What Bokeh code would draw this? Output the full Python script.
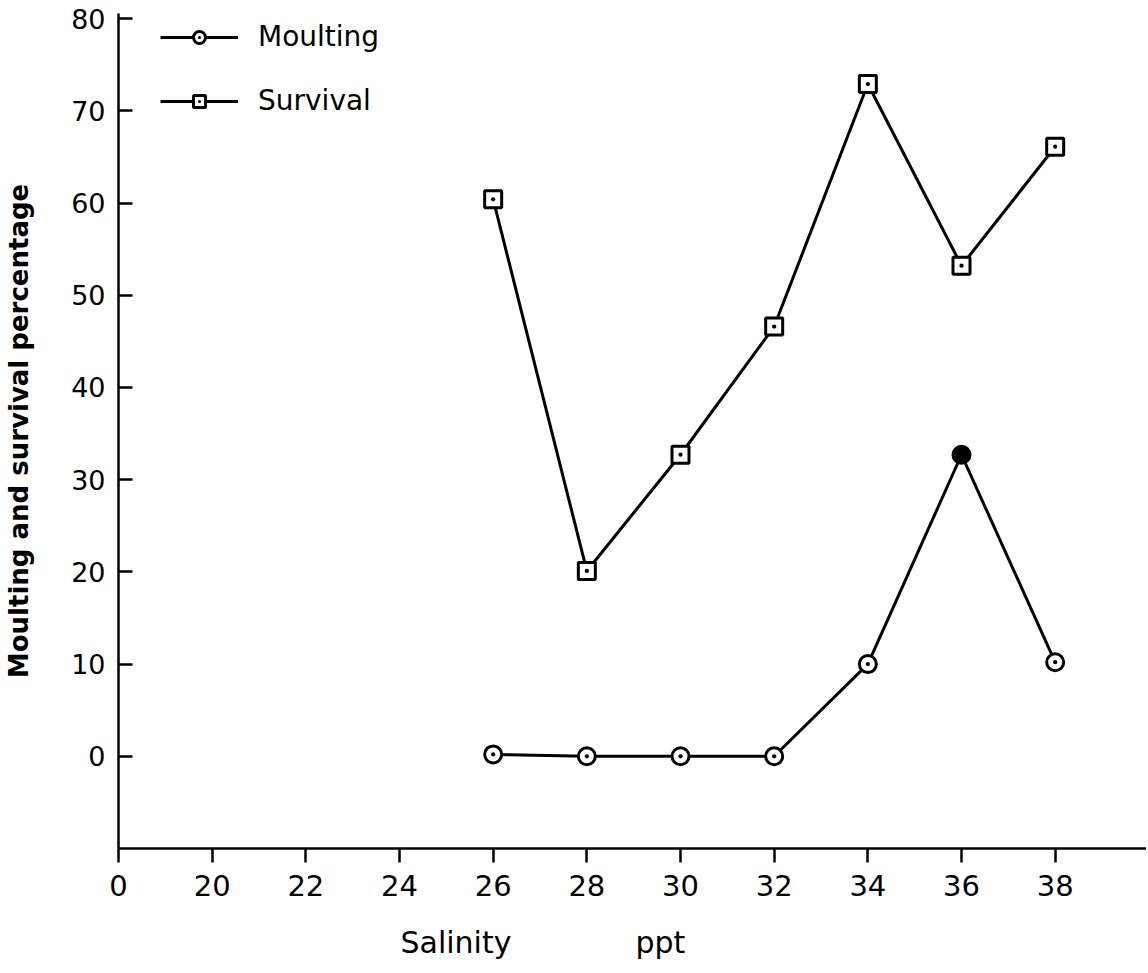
from bokeh.plotting import figure
from bokeh.models import FixedTicker, Legend, LegendItem, Title
from bokeh.embed import file_html
from bokeh.resources import INLINE

# ---- data ----
salinity = [26, 28, 30, 32, 34, 36, 38]
moulting = [0.2, 0.0, 0.0, 0.0, 10.0, 32.7, 10.2]
survival = [60.4, 20.1, 32.7, 46.6, 72.9, 53.2, 66.1]
x_ticks = [18, 20, 22, 24, 26, 28, 30, 32, 34, 36, 38]
x_tick_labels = ["0", "20", "22", "24", "26", "28", "30", "32", "34", "36", "38"]
y_ticks = [0, 10, 20, 30, 40, 50, 60, 70, 80]
filled_index = 5  # moulting point drawn as solid dot (36 ppt)

FONT = "DejaVu Sans"

p = figure(
    output_backend="svg", toolbar_location=None,
    frame_width=1028, frame_height=835,
    min_border_left=118, min_border_right=0, min_border_top=13, min_border_bottom=118,
    x_range=(18, 39.95), y_range=(-10, 80.55),
    background_fill_color="white", border_fill_color="white",
)
p.outline_line_color = None
p.xgrid.grid_line_color = None
p.ygrid.grid_line_color = None

# x axis
xa = p.xaxis[0]
xa.ticker = FixedTicker(ticks=x_ticks)
xa.major_label_overrides = {t: l for t, l in zip(x_ticks, x_tick_labels)}
xa.major_tick_in = 0
xa.major_tick_out = 14
xa.minor_tick_line_color = None
xa.axis_line_width = 2.5
xa.major_tick_line_width = 2.5
xa.axis_line_color = "black"
xa.major_tick_line_color = "black"
xa.major_label_standoff = 12
xa.major_label_text_font = FONT
xa.major_label_text_font_size = "29px"
xa.major_label_text_color = "black"

# y axis
ya = p.yaxis[0]
ya.ticker = FixedTicker(ticks=y_ticks)
ya.major_tick_in = 14
ya.major_tick_out = 0
ya.minor_tick_line_color = None
ya.axis_line_width = 2.5
ya.major_tick_line_width = 2.5
ya.axis_line_color = "black"
ya.major_tick_line_color = "black"
ya.major_label_standoff = 13
ya.major_label_text_font = FONT
ya.major_label_text_font_size = "27px"
ya.major_label_text_color = "black"
ya.axis_label = "Moulting and survival percentage"
ya.axis_label_text_font = FONT
ya.axis_label_text_font_size = "26px"
ya.axis_label_text_font_style = "bold"
ya.axis_label_text_color = "black"
ya.axis_label_standoff = 34

# x axis title (offset to the left as in the reference)
p.add_layout(Title(text="Salinity" + "\u00a0" * 13 + "ppt", align="left", offset=282,
                   text_font=FONT, text_font_size="30px", text_font_style="normal",
                   text_color="black", standoff=49), "below")

# series
surv_line = p.line(salinity, survival, line_color="black", line_width=3)
surv_pts = p.scatter(salinity, survival, marker="square_dot", size=17,
                     line_color="black", line_width=3, fill_color="white")

moult_line = p.line(salinity, moulting, line_color="black", line_width=3)
open_x = [s for i, s in enumerate(salinity) if i != filled_index]
open_y = [m for i, m in enumerate(moulting) if i != filled_index]
moult_pts = p.scatter(open_x, open_y, marker="circle_dot", size=17,
                      line_color="black", line_width=3, fill_color="white")
p.scatter([salinity[filled_index]], [moulting[filled_index]], marker="circle", size=18,
          line_color="black", line_width=2, fill_color="black")

legend = Legend(
    items=[LegendItem(label="Moulting", renderers=[moult_line, moult_pts]),
           LegendItem(label="Survival", renderers=[surv_line, surv_pts])],
    location=(42, 731),
    glyph_width=78, glyph_height=30, label_height=30, spacing=31,
    label_standoff=20, padding=0, margin=0,
    label_text_font=FONT, label_text_font_size="28px", label_text_color="black",
    border_line_color=None, background_fill_alpha=0,
)
p.add_layout(legend, "center")

open("out.html", "w").write(file_html(p, INLINE))
